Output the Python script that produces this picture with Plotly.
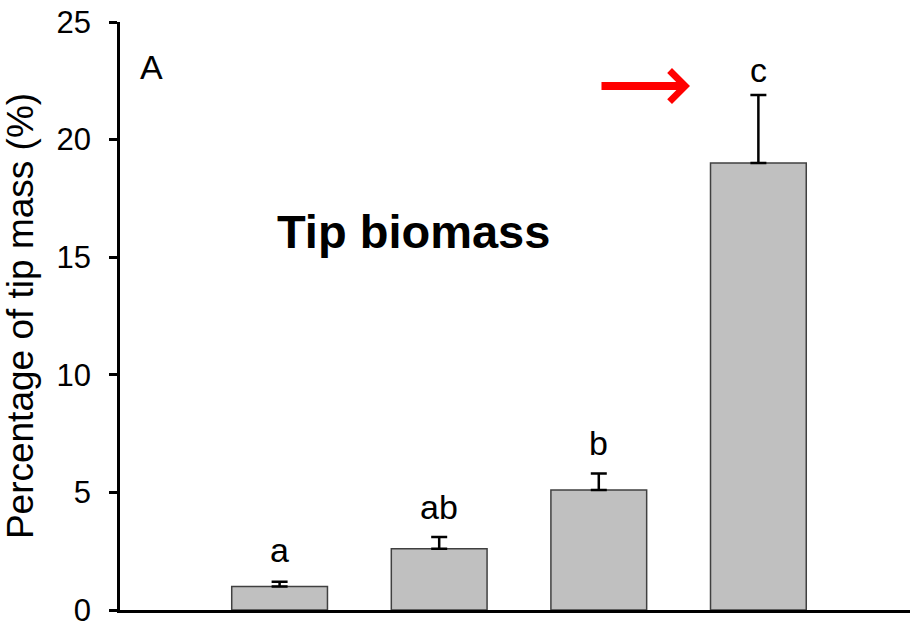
import plotly.graph_objects as go

groups = [1, 2, 3, 4]
means = [1.0, 2.6, 5.1, 19.0]
errors = [0.2, 0.5, 0.7, 2.9]
letters = ["a", "ab", "b", "c"]
y_ticks = [0, 5, 10, 15, 20, 25]

FONT = "Arial, Liberation Sans, sans-serif"
letter_shift = [11, 9, 10, 4]

fig = go.Figure()
fig.add_trace(go.Bar(
    x=groups, y=means, width=0.6,
    marker=dict(color="#c0c0c0", line=dict(color="#404040", width=1.5)),
    error_y=dict(type="data", symmetric=False, array=errors,
                 arrayminus=[0] * len(errors), color="black",
                 thickness=2.5, width=8),
    showlegend=False,
))

for g, m, e, t, s in zip(groups, means, errors, letters, letter_shift):
    fig.add_annotation(x=g, y=m + e, text=t, showarrow=False,
                       yanchor="bottom", yshift=s,
                       font=dict(family=FONT, size=34, color="black"))

fig.add_annotation(xref="paper", yref="paper", x=0.0405, y=0.924, text="A",
                   showarrow=False, xanchor="center", yanchor="middle",
                   font=dict(family=FONT, size=34, color="black"))
fig.add_annotation(xref="paper", yref="paper", x=0.3715, y=0.643,
                   text="<b>Tip biomass</b>", showarrow=False,
                   xanchor="center", yanchor="middle",
                   font=dict(family=FONT, size=47, color="black"))
# red arrow
fig.add_annotation(xref="paper", yref="paper", x=0.7215, y=0.891,
                   ax=-90, ay=0, text="", showarrow=True,
                   arrowhead=4, arrowwidth=8, arrowsize=0.75,
                   arrowcolor="#ff0000")

fig.update_xaxes(range=[0, 4.95], showticklabels=False, ticks="",
                 showline=True, linecolor="black", linewidth=2.7,
                 showgrid=False, zeroline=False, automargin=False)
fig.update_yaxes(range=[0, 25], tickvals=y_ticks, ticks="outside",
                 ticklen=8, tickwidth=2.5, tickcolor="black",
                 ticklabelstandoff=12, ticklabeloverflow="allow",
                 automargin=False,
                 showline=True, linecolor="black", linewidth=2.7,
                 showgrid=False, zeroline=False,
                 tickfont=dict(family=FONT, size=31, color="black"),
                 title=dict(text="Percentage of tip mass (%)",
                            font=dict(family=FONT, size=37, color="black"),
                            standoff=18))

fig.update_layout(width=912, height=623, plot_bgcolor="white",
                  paper_bgcolor="white",
                  margin=dict(l=120, r=2, t=22, b=13, autoexpand=False),
                  font=dict(family=FONT))

fig.write_html("out.html",
               config={"displayModeBar": False},
               post_script="document.body.style.margin='0';"
                           "document.body.style.overflow='hidden';")
